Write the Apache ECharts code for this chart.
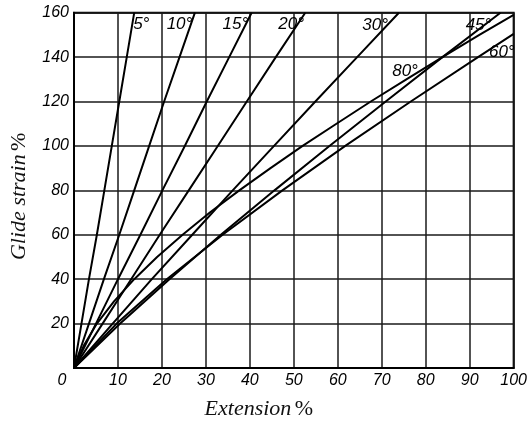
<!DOCTYPE html>
<html><head><meta charset="utf-8">
<script src="https://cdn.jsdelivr.net/npm/echarts@6/dist/echarts.min.js"></script>
<style>html,body{margin:0;padding:0;background:#fff}#c{width:530px;height:426px}</style>
</head><body><div id="c"></div>
<script>
// Glide strain levels (%) at which extension (%) was read for each curve
const glideLevels = [0, 20, 40, 60, 80, 100, 120, 140, 160];
const ext5  = [0, 1.7, 3.4, 5.2, 6.9, 8.6, 10.3, 12.0, 13.7];
const ext10 = [0, 3.4, 6.8, 10.3, 13.7, 17.1, 20.5, 24.0, 27.5];
const ext15 = [0, 5.0, 10.0, 15.1, 20.1, 25.2, 30.2, 35.3, 40.4];
const ext20 = [0, 6.5, 13.0, 19.5, 26.1, 32.7, 39.3, 45.9, 52.6];
const ext30 = [0, 8.8, 17.7, 26.9, 36.1, 45.5, 54.9, 64.4, 73.9];
const ext45 = [0, 10.5, 21.7, 33.4, 45.6, 58.1, 70.9, 83.8, 97.0];
// 60° curve leaves the frame at the right edge
const glide60 = [0, 20, 40, 60, 80, 100, 120, 140, 150.5];
const ext60   = [0, 9.7, 21.1, 33.8, 47.4, 61.7, 76.6, 91.9, 100];
// 80° curve (curved) read at finer steps
const glide80 = [0, 10, 20, 30, 40, 50, 60, 70, 80, 90, 100, 110, 120, 130, 140, 150, 159];
const ext80   = [0, 2.2, 5.2, 9.1, 13.7, 18.9, 24.7, 30.9, 37.6, 44.7, 52.0, 59.7, 67.5, 75.6, 83.8, 92.2, 100];

const curveNames = ['5°', '10°', '15°', '20°', '30°', '45°', '60°', '80°'];
const curveExt   = [ext5, ext10, ext15, ext20, ext30, ext45, ext60, ext80];
const curveGlide = [glideLevels, glideLevels, glideLevels, glideLevels, glideLevels, glideLevels, glide60, glide80];

// Curve label anchor points [extension, glide strain]
const labelNames = ['5°', '10°', '15°', '20°', '30°', '45°', '60°', '80°'];
const labelExt   = [15.3, 24.0, 36.7, 49.4, 68.5, 92.0, 97.3, 75.3];
const labelGlide = [155, 155, 155, 155, 154.5, 154.5, 142.3, 133.8];

const xTicks = ['0','10','20','30','40','50','60','70','80','90','100'];
const yTicks = ['', '20','40','60','80','100','120','140','160'];

const tickFont = {fontFamily: '"Liberation Sans Narrow","Liberation Sans",sans-serif', fontStyle: 'italic', fontSize: 16, color: '#000'};
const nameRich = {
  i: {fontFamily: '"Liberation Serif",serif', fontStyle: 'italic', fontSize: 22, color: '#111'},
  p: {fontFamily: '"Liberation Serif",serif', fontSize: 22, color: '#111'}
};

const series = curveNames.map((n, i) => ({
  type: 'line', name: n, symbol: 'none', smooth: false,
  data: curveExt[i].map((x, j) => [x, curveGlide[i][j]]),
  lineStyle: {color: '#000', width: 2}, z: 3, silent: true
}));
series.push({
  type: 'scatter', symbolSize: 0, silent: true, z: 5,
  itemStyle: {opacity: 1, color: '#000'},
  data: labelNames.map((n, i) => ({name: n, value: [labelExt[i], labelGlide[i]]})),
  label: Object.assign({show: true, position: 'inside', formatter: p => p.name, textBorderWidth: 0, opacity: 1}, tickFont, {fontSize: 17, color: '#000'})
});

const chart = echarts.init(document.getElementById('c'), null, {renderer: 'canvas'});
chart.setOption({
  backgroundColor: '#fff',
  animation: false,
  grid: {left: 71.6, right: 5.6, top: 12.7, bottom: 58, show: true, borderColor: '#000', borderWidth: 2, backgroundColor: 'transparent'},
  xAxis: {
    type: 'value', min: 0, max: 100, interval: 10,
    name: '{i|Extension} {p|%}', nameLocation: 'middle', nameGap: 30,
    nameTextStyle: {padding: [0, 70, 0, 0], rich: nameRich},
    axisLine: {show: true, lineStyle: {color: '#000', width: 2}},
    axisTick: {show: false},
    splitLine: {show: true, lineStyle: {color: '#1a1a1a', width: 1.5}},
    axisLabel: Object.assign({margin: 5, formatter: (v) => {
      const s = xTicks[Math.round(v / 10)];
      return v === 0 ? '{z|' + s + '}' : s;
    }, rich: {z: Object.assign({}, tickFont, {padding: [0, 24, 0, 0]})}}, tickFont)
  },
  yAxis: {
    type: 'value', min: 0, max: 160, interval: 20,
    name: '{i|Glide strain} {p|%}', nameLocation: 'middle', nameGap: 44,
    nameTextStyle: {padding: [0, 12, 0, 0], rich: nameRich},
    axisLine: {show: true, lineStyle: {color: '#000', width: 2}},
    axisTick: {show: false},
    splitLine: {show: true, lineStyle: {color: '#1a1a1a', width: 1.5}},
    axisLabel: Object.assign({margin: 5, formatter: (v) => yTicks[Math.round(v / 20)]}, tickFont)
  },
  series: series
});
</script></body></html>
